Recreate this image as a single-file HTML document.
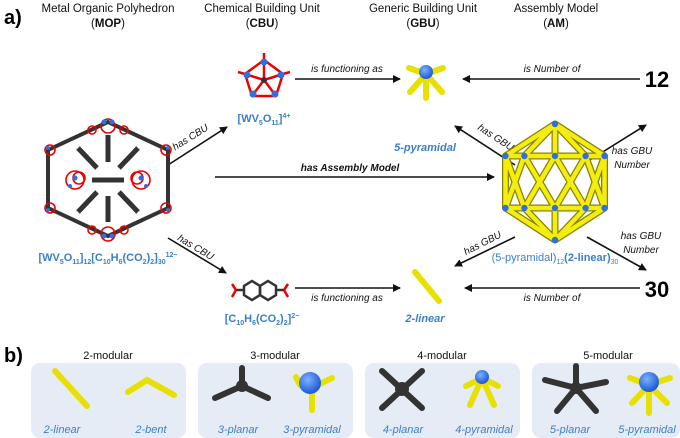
<!DOCTYPE html>
<html><head><meta charset="utf-8"><style>
body{margin:0;background:#fff}
svg{display:block}
text{font-family:"Liberation Sans",sans-serif}
.h{font-size:11.5px;fill:#111;text-anchor:middle}
.lab{font-size:10px;font-style:italic;fill:#111;text-anchor:middle}
.bl{font-size:11px;font-weight:bold;fill:#3a7fc8;text-anchor:middle}
.bi{font-size:11px;font-style:italic;fill:#3a7fc8;text-anchor:middle}
.ar{stroke:#111;stroke-width:1.6;fill:none;marker-end:url(#ah)}
.yr{stroke:#e8e000;stroke-width:6;stroke-linecap:round}
.dr{stroke:#333;stroke-width:6;stroke-linecap:round}
</style></head><body>
<svg width="680" height="438" viewBox="0 0 680 438">
<defs>
<marker id="ah" markerWidth="8" markerHeight="8" refX="7" refY="4" orient="auto" markerUnits="userSpaceOnUse"><path d="M0,0 L8,4 L0,8 z" fill="#111"/></marker>
<radialGradient id="bb" cx="40%" cy="35%" r="60%"><stop offset="0" stop-color="#7fb0ff"/><stop offset="1" stop-color="#1f5fd8"/></radialGradient>
</defs>
<text x="4" y="24" style="font-size:20px;font-weight:bold">a)</text>
<text x="108" y="12" class="h">Metal Organic Polyhedron</text>
<text x="108" y="27" class="h">(<tspan font-weight="bold">MOP</tspan>)</text>
<text x="262" y="12" class="h">Chemical Building Unit</text>
<text x="262" y="27" class="h">(<tspan font-weight="bold">CBU</tspan>)</text>
<text x="423" y="12" class="h">Generic Building Unit</text>
<text x="423" y="27" class="h">(<tspan font-weight="bold">GBU</tspan>)</text>
<text x="556" y="12" class="h">Assembly Model</text>
<text x="556" y="27" class="h">(<tspan font-weight="bold">AM</tspan>)</text>

<line x1="168" y1="165" x2="227" y2="127" class="ar"/>
<text x="0" y="0" class="lab" transform="translate(192,140) rotate(-32)">has CBU</text>
<line x1="295" y1="79" x2="400" y2="79" class="ar"/>
<text x="347" y="72" class="lab">is functioning as</text>
<line x1="640" y1="79" x2="463" y2="79" class="ar"/>
<text x="552" y="72" class="lab">is Number of</text>
<text x="657" y="87" style="font-size:22px;font-weight:bold;text-anchor:middle">12</text>
<line x1="515" y1="165" x2="455" y2="126" class="ar"/>
<text x="0" y="0" class="lab" transform="translate(494,140) rotate(33)">has GBU</text>
<line x1="585" y1="163" x2="646" y2="125" class="ar"/>
<text x="632" y="154" class="lab">has GBU</text>
<text x="632" y="168" class="lab">Number</text>
<line x1="215" y1="177" x2="494" y2="177" class="ar"/>
<text x="350" y="171" class="lab" font-weight="bold">has Assembly Model</text>
<line x1="168" y1="238" x2="226" y2="273" class="ar"/>
<text x="0" y="0" class="lab" transform="translate(194,250) rotate(31)">has CBU</text>
<line x1="295" y1="288" x2="400" y2="288" class="ar"/>
<text x="347" y="301" class="lab">is functioning as</text>
<line x1="640" y1="288" x2="465" y2="288" class="ar"/>
<text x="552" y="301" class="lab">is Number of</text>
<text x="657" y="297" style="font-size:22px;font-weight:bold;text-anchor:middle">30</text>
<line x1="515" y1="237" x2="455" y2="266" class="ar"/>
<text x="0" y="0" class="lab" transform="translate(484,246) rotate(-27)">has GBU</text>
<line x1="587" y1="237" x2="646" y2="270" class="ar"/>
<text x="641" y="239" class="lab">has GBU</text>
<text x="641" y="253" class="lab">Number</text>

<!-- MOP -->
<g fill="none">
<polygon points="108,122 168,150 168,208 108,236 48,208 48,150" stroke="#333" stroke-width="4"/>
<g stroke="#333" stroke-width="5">
<line x1="108" y1="135" x2="108" y2="162"/><line x1="108" y1="196" x2="108" y2="222"/>
<line x1="78" y1="148" x2="97" y2="168"/><line x1="138" y1="148" x2="119" y2="168"/>
<line x1="78" y1="212" x2="97" y2="192"/><line x1="138" y1="212" x2="119" y2="192"/>
<line x1="92" y1="180" x2="124" y2="180"/>
</g>
<g stroke="#e00" stroke-width="1.6">
<circle cx="75" cy="180" r="9"/><circle cx="79" cy="178" r="6"/><circle cx="141" cy="180" r="9"/><circle cx="137" cy="178" r="6"/>
<circle cx="108" cy="126" r="7"/><circle cx="108" cy="234" r="7"/>
<circle cx="50" cy="150" r="5"/><circle cx="166" cy="150" r="5"/><circle cx="50" cy="208" r="5"/><circle cx="166" cy="208" r="5"/>
<circle cx="92" cy="130" r="4"/><circle cx="124" cy="130" r="4"/><circle cx="92" cy="230" r="4"/><circle cx="124" cy="230" r="4"/>
</g>
</g>
<g fill="#2f6fe0">
<circle cx="75" cy="178" r="2.5"/><circle cx="141" cy="178" r="2.5"/><circle cx="70" cy="186" r="2"/><circle cx="146" cy="186" r="2"/>
<circle cx="104" cy="122" r="2.5"/><circle cx="112" cy="122" r="2.5"/><circle cx="104" cy="236" r="2.5"/><circle cx="112" cy="236" r="2.5"/>
<circle cx="48" cy="148" r="2"/><circle cx="168" cy="148" r="2"/><circle cx="48" cy="210" r="2"/><circle cx="168" cy="210" r="2"/>
</g>
<text x="108" y="261" class="bl">[WV<tspan font-size="7" dy="3">5</tspan><tspan dy="-3">O</tspan><tspan font-size="7" dy="3">11</tspan><tspan dy="-3">]</tspan><tspan font-size="7" dy="3">12</tspan><tspan dy="-3">[C</tspan><tspan font-size="7" dy="3">10</tspan><tspan dy="-3">H</tspan><tspan font-size="7" dy="3">6</tspan><tspan dy="-3">(CO</tspan><tspan font-size="7" dy="3">2</tspan><tspan dy="-3">)</tspan><tspan font-size="7" dy="3">2</tspan><tspan dy="-3">]</tspan><tspan font-size="7" dy="3">30</tspan><tspan font-size="7" dy="-7">12−</tspan></text>

<g stroke="#e00" stroke-width="2.5" fill="none">
<polygon points="264,60 283,74 276,96 252,96 245,74"/>
<line x1="264" y1="60" x2="264" y2="80"/><line x1="283" y1="74" x2="264" y2="80"/><line x1="276" y1="96" x2="264" y2="80"/><line x1="252" y1="96" x2="264" y2="80"/><line x1="245" y1="74" x2="264" y2="80"/>
<line x1="264" y1="60" x2="264" y2="53"/><line x1="283" y1="74" x2="290" y2="72"/><line x1="245" y1="74" x2="238" y2="72"/>
</g>
<circle cx="264" cy="80" r="3" fill="#333"/>
<g fill="#2f6fe0"><circle cx="264" cy="62" r="3.5"/><circle cx="281" cy="75" r="3.5"/><circle cx="275" cy="94" r="3.5"/><circle cx="253" cy="94" r="3.5"/><circle cx="247" cy="75" r="3.5"/></g>
<text x="264" y="122" class="bl">[WV<tspan font-size="7" dy="3">5</tspan><tspan dy="-3">O</tspan><tspan font-size="7" dy="3">11</tspan><tspan dy="-3">]</tspan><tspan font-size="7" dy="-4">4+</tspan></text>

<g>
<line x1="426" y1="74" x2="426" y2="98" class="yr" stroke-width="7"/>
<line x1="426" y1="74" x2="410" y2="92" class="yr"/>
<line x1="426" y1="74" x2="442" y2="92" class="yr"/>
<line x1="426" y1="74" x2="409" y2="68" class="yr"/>
<line x1="426" y1="74" x2="443" y2="68" class="yr"/>
<circle cx="426" cy="72" r="7" fill="url(#bb)"/>
</g>
<text x="425" y="151" class="bl" font-style="italic">5-pyramidal</text>

<g stroke="#8a8200" stroke-width="7" stroke-linecap="round" fill="none">
<path d="M555,124L555,156M555,124L604.5,156M555,124L585.6,156M555,124L524.4,156M555,124L505.5,156M555,240L585.6,208M555,240L604.5,208M555,240L555,208M555,240L505.5,208M555,240L524.4,208M505.5,156L604.5,156M505.5,208L604.5,208M555,156L585.6,208M555,156L524.4,208M604.5,156L604.5,208M604.5,156L585.6,208M585.6,156L555,208M585.6,156L604.5,208M524.4,156L505.5,208M524.4,156L555,208M505.5,156L524.4,208M505.5,156L505.5,208"/>
</g>
<g stroke="#f4ee10" stroke-width="4.5" stroke-linecap="round" fill="none">
<path d="M555,124L555,156M555,124L604.5,156M555,124L585.6,156M555,124L524.4,156M555,124L505.5,156M555,240L585.6,208M555,240L604.5,208M555,240L555,208M555,240L505.5,208M555,240L524.4,208M505.5,156L604.5,156M505.5,208L604.5,208M555,156L585.6,208M555,156L524.4,208M604.5,156L604.5,208M604.5,156L585.6,208M585.6,156L555,208M585.6,156L604.5,208M524.4,156L505.5,208M524.4,156L555,208M505.5,156L524.4,208M505.5,156L505.5,208"/>
</g>
<g fill="#2f6fe0"><circle cx="555" cy="124" r="3.2"/><circle cx="555" cy="240" r="3.2"/><circle cx="555" cy="156" r="3.2"/><circle cx="604.5" cy="156" r="3.2"/><circle cx="585.6" cy="156" r="3.2"/><circle cx="524.4" cy="156" r="3.2"/><circle cx="505.5" cy="156" r="3.2"/><circle cx="585.6" cy="208" r="3.2"/><circle cx="604.5" cy="208" r="3.2"/><circle cx="555" cy="208" r="3.2"/><circle cx="505.5" cy="208" r="3.2"/><circle cx="524.4" cy="208" r="3.2"/></g>
<text x="555" y="261" style="font-size:11px;fill:#3a7fc8;text-anchor:middle">(5-pyramidal)<tspan font-size="7" dy="3">12</tspan><tspan dy="-3" font-weight="bold">(2-linear)</tspan><tspan font-size="7" dy="3">30</tspan></text>

<g stroke="#333" stroke-width="2.5" fill="none">
<polygon points="252,281 260,286 260,295 252,300 244,295 244,286"/>
<polygon points="268,281 276,286 276,295 268,300 260,295 260,286"/>
<line x1="244" y1="290" x2="236" y2="290"/><line x1="276" y1="290" x2="284" y2="290"/>
</g>
<g stroke="#e00" stroke-width="2.5"><line x1="236" y1="290" x2="232" y2="284"/><line x1="236" y1="290" x2="232" y2="297"/><line x1="284" y1="290" x2="288" y2="284"/><line x1="284" y1="290" x2="288" y2="297"/></g>
<text x="262" y="322" class="bl">[C<tspan font-size="7" dy="3">10</tspan><tspan dy="-3">H</tspan><tspan font-size="7" dy="3">6</tspan><tspan dy="-3">(CO</tspan><tspan font-size="7" dy="3">2</tspan><tspan dy="-3">)</tspan><tspan font-size="7" dy="3">2</tspan><tspan dy="-3">]</tspan><tspan font-size="7" dy="-4">2−</tspan></text>
<line x1="415" y1="272" x2="439" y2="301" class="yr" stroke-width="7"/>
<text x="425" y="322" class="bl" font-style="italic">2-linear</text>

<text x="4" y="362" style="font-size:20px;font-weight:bold">b)</text>
<g fill="#e6ecf6">
<rect x="31" y="363" width="155" height="75" rx="9"/>
<rect x="198" y="363" width="155" height="75" rx="9"/>
<rect x="365" y="363" width="155" height="75" rx="9"/>
<rect x="532" y="363" width="148" height="75" rx="9"/>
</g>
<text x="108" y="359" class="h" style="font-size:11px">2-modular</text>
<text x="275" y="359" class="h" style="font-size:11px">3-modular</text>
<text x="442" y="359" class="h" style="font-size:11px">4-modular</text>
<text x="608" y="359" class="h" style="font-size:11px">5-modular</text>
<line x1="55" y1="371" x2="87" y2="406" class="yr" stroke-width="7"/>
<polyline points="128,392 147,380 174,395" fill="none" class="yr" stroke-width="7"/>
<g class="dr"><line x1="242" y1="386" x2="242" y2="368"/><line x1="242" y1="386" x2="215" y2="398"/><line x1="242" y1="386" x2="268" y2="398"/></g>
<circle cx="242" cy="386" r="6" fill="#333"/>
<g class="yr" stroke-width="7"><line x1="300" y1="385" x2="296" y2="377"/><line x1="318" y1="385" x2="332" y2="378"/><line x1="312" y1="390" x2="312" y2="410"/></g>
<circle cx="310" cy="383" r="11" fill="url(#bb)"/>
<g class="dr" stroke-width="8"><line x1="382" y1="371" x2="422" y2="408"/><line x1="422" y1="371" x2="382" y2="408"/></g>
<circle cx="402" cy="389" r="7" fill="#333"/>
<g class="yr" stroke-width="5"><line x1="482" y1="378" x2="470" y2="405"/><line x1="482" y1="378" x2="494" y2="405"/><line x1="482" y1="378" x2="466" y2="386"/><line x1="482" y1="378" x2="498" y2="386"/></g>
<circle cx="482" cy="377" r="7" fill="url(#bb)"/>
<g class="dr" stroke-width="4"><line x1="576" y1="388" x2="576" y2="366"/><line x1="576" y1="388" x2="545" y2="380"/><line x1="576" y1="388" x2="606" y2="382"/><line x1="576" y1="388" x2="557" y2="411"/><line x1="576" y1="388" x2="596" y2="411"/></g>
<circle cx="576" cy="388" r="6" fill="#333"/>
<g class="yr" stroke-width="7"><line x1="649" y1="385" x2="649" y2="413"/><line x1="649" y1="385" x2="632" y2="403"/><line x1="649" y1="385" x2="667" y2="403"/><line x1="649" y1="385" x2="630" y2="378"/><line x1="649" y1="385" x2="670" y2="378"/></g>
<circle cx="649" cy="382" r="10" fill="url(#bb)"/>
<text x="62" y="433" class="bi">2-linear</text>
<text x="151" y="433" class="bi">2-bent</text>
<text x="238" y="433" class="bi">3-planar</text>
<text x="312" y="433" class="bi">3-pyramidal</text>
<text x="403" y="433" class="bi">4-planar</text>
<text x="484" y="433" class="bi">4-pyramidal</text>
<text x="570" y="433" class="bi">5-planar</text>
<text x="647" y="433" class="bi">5-pyramidal</text>
</svg>
</body></html>
